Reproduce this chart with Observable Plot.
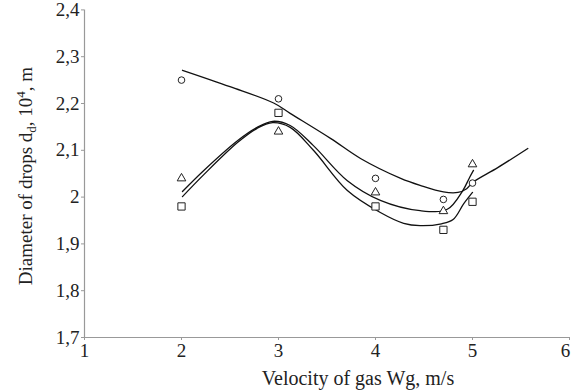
<!DOCTYPE html>
<html><head><meta charset="utf-8">
<script src="https://cdn.jsdelivr.net/npm/d3@7"></script>
<script src="https://cdn.jsdelivr.net/npm/@observablehq/plot@0.6"></script>
<style>html,body{margin:0;padding:0;background:#fff} svg{display:block}</style>
</head><body><div id="chart"></div>
<script>
// Measured points
const markerX   = [2, 3, 4, 4.7, 5];
const circleY   = [2.25, 2.21, 2.04, 1.995, 2.03];
const triangleY = [2.04, 2.14, 2.01, 1.97, 2.07];
const squareY   = [1.98, 2.18, 1.98, 1.93, 1.99];

// Fitted curves
const circleCurveX = [2.01, 2.5, 2.95, 3.12, 3.54, 3.85, 4.26, 4.46, 4.7, 4.85, 4.94, 5.0, 5.26, 5.57];
const circleCurveY = [2.271, 2.236, 2.201, 2.179, 2.125, 2.082, 2.04, 2.025, 2.011, 2.01, 2.018, 2.031, 2.063, 2.104];
const triCurveX = [2.01, 2.23, 2.58, 2.78, 2.94, 3.12, 3.36, 3.71, 4.05, 4.46, 4.74, 4.9, 4.97, 5.01];
const triCurveY = [2.012, 2.057, 2.121, 2.149, 2.162, 2.153, 2.11, 2.035, 1.993, 1.971, 1.974, 2.014, 2.042, 2.057];
const sqCurveX = [2.01, 2.23, 2.58, 2.78, 2.94, 3.12, 3.36, 3.71, 4.05, 4.29, 4.46, 4.68, 4.8, 4.91, 5.0];
const sqCurveY = [2.001, 2.048, 2.117, 2.147, 2.159, 2.149, 2.1, 2.014, 1.967, 1.944, 1.939, 1.943, 1.952, 1.986, 2.01];

const xTicks = [1, 2, 3, 4, 5, 6];
const yTicks = [1.7, 1.8, 1.9, 2.0, 2.1, 2.2, 2.3, 2.4];

const zip = (xs, ys) => xs.map((x, i) => ({x, y: ys[i]}));

const plot = Plot.plot({
  width: 572, height: 391,
  marginLeft: 84, marginRight: 3, marginTop: 9.4, marginBottom: 54,
  x: {domain: [1, 6]},
  y: {domain: [1.7, 2.4]},
  style: {fontFamily: "'Liberation Serif', 'Times New Roman', serif", fontSize: "19px", background: "white", color: "#222"},
  marks: [
    Plot.axisY({ticks: yTicks, tickFormat: d => String(+d.toFixed(1)).replace(".", ","), tickSize: 3, tickPadding: 2, label: null, stroke: "#999", fill: "#222"}),
    Plot.axisX({ticks: xTicks, tickFormat: d => String(d), tickSize: 3, tickPadding: 3, label: null, stroke: "#999", fill: "#222"}),
    Plot.ruleX([1], {stroke: "#999", strokeWidth: 1.2}),
    Plot.ruleY([1.7], {stroke: "#999", strokeWidth: 1.2}),
    Plot.line(zip(circleCurveX, circleCurveY), {x: "x", y: "y", curve: "catmull-rom", stroke: "#111", strokeWidth: 1.3}),
    Plot.line(zip(triCurveX, triCurveY), {x: "x", y: "y", curve: "catmull-rom", stroke: "#111", strokeWidth: 1.3}),
    Plot.line(zip(sqCurveX, sqCurveY), {x: "x", y: "y", curve: "catmull-rom", stroke: "#111", strokeWidth: 1.3}),
    Plot.dot(zip(markerX, circleY), {x: "x", y: "y", symbol: "circle", r: 3.3, stroke: "#222", fill: "white", strokeWidth: 1}),
    Plot.dot(zip(markerX, triangleY), {x: "x", y: "y", symbol: "triangle", r: 3.2, stroke: "#222", fill: "white", strokeWidth: 1}),
    Plot.dot(zip(markerX, squareY), {x: "x", y: "y", symbol: "square", r: 4.1, stroke: "#222", fill: "white", strokeWidth: 1})
  ]
});

document.getElementById("chart").appendChild(plot);
const svg = d3.select(plot);
const font = "'Liberation Serif', 'Times New Roman', serif";

// keep the last x tick label ("6") inside the picture
const xLabels = svg.selectAll('g[aria-label="x-axis tick label"] text').nodes();
if (xLabels.length) d3.select(xLabels[xLabels.length - 1]).attr("dx", -4);

const yl = svg.append("text")
  .attr("transform", "translate(32,176) rotate(-90)")
  .attr("text-anchor", "middle")
  .style("font-family", font).style("font-size", "19px").attr("fill", "#222");
yl.append("tspan").text("Diameter of drops d");
yl.append("tspan").attr("dy", 4).style("font-size", "13px").text("d");
yl.append("tspan").attr("dy", -4).text(", 10");
yl.append("tspan").attr("dy", -7).style("font-size", "13px").text("4");
yl.append("tspan").attr("dy", 7).text(", m");

svg.append("text")
  .attr("x", 358).attr("y", 385)
  .attr("text-anchor", "middle")
  .style("font-family", font).style("font-size", "20px").attr("fill", "#222")
  .text("Velocity of gas Wg, m/s");
</script>
</body></html>
